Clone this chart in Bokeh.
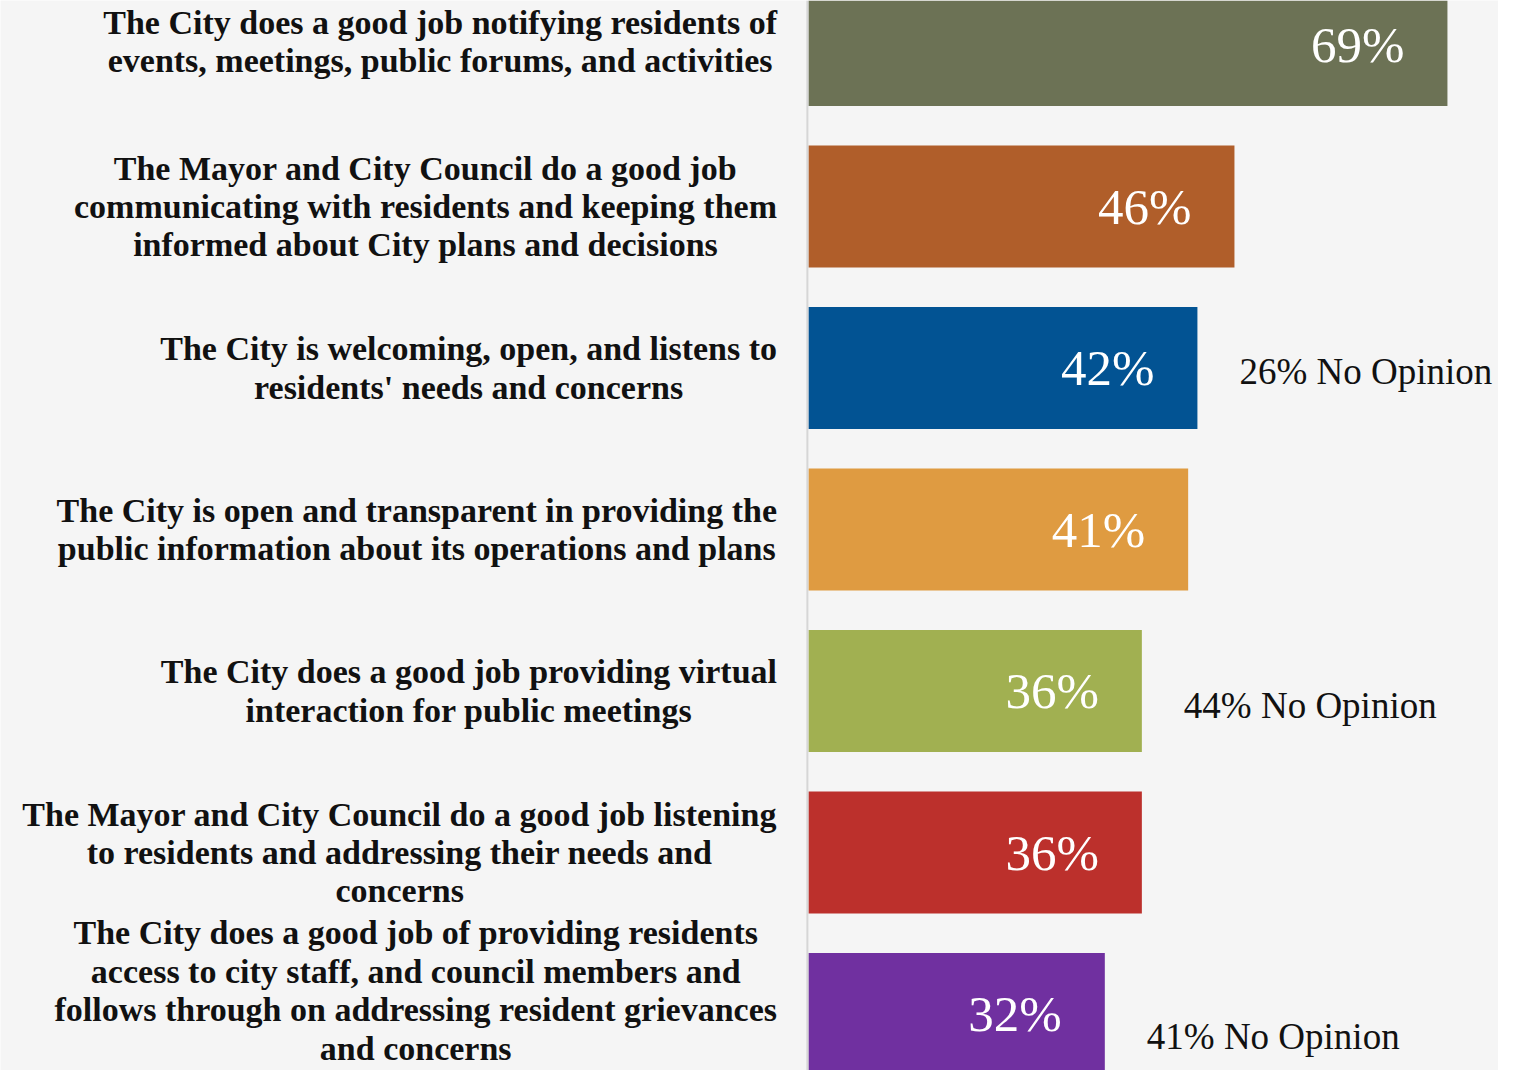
from bokeh.plotting import figure
from bokeh.models import ColumnDataSource, Range1d, Span
from bokeh.core.properties import value
from bokeh.embed import file_html
from bokeh.resources import INLINE

statements = [
    "The City does a good job notifying residents of\nevents, meetings, public forums, and activities",
    "The Mayor and City Council do a good job\ncommunicating with residents and keeping them\ninformed about City plans and decisions",
    "The City is welcoming, open, and listens to\nresidents' needs and concerns",
    "The City is open and transparent in providing the\npublic information about its operations and plans",
    "The City does a good job providing virtual\ninteraction for public meetings",
    "The Mayor and City Council do a good job listening\nto residents and addressing their needs and\nconcerns",
    "The City does a good job of providing residents\naccess to city staff, and council members and\nfollows through on addressing resident grievances\nand concerns",
]
agree = [69, 46, 42, 41, 36, 36, 32]
no_opinion = [None, None, 26, None, 44, None, 41]
colors = ["#6c7255", "#b05e2a", "#025393", "#df9b41", "#a1b051", "#bc302c", "#7030a0"]

pos = list(range(len(statements)))

W, H = 1498, 1070
PX_PER_PCT = 9.26
X0 = 808  # frame pixel where value 0 sits
x_start = -X0 / PX_PER_PCT
x_end = (W - X0) / PX_PER_PCT
PX_PER_ROW = 161.5
Y0 = 44.5
y_top = -Y0 / PX_PER_ROW
y_bot = (H - Y0) / PX_PER_ROW

# last (4-line) label lifted a little so that it stays inside the page
label_shift = [-0.02, 0, 0, 0, 0, 0, -0.145]

src = ColumnDataSource(dict(
    y=pos,
    agree=agree,
    color=colors,
    pct=[f"{v}%" for v in agree],
    stmt=statements,
    label_x=[-3.4] * len(pos),
    label_y=[p_ + s for p_, s in zip(pos, label_shift)],
))

p = figure(width=W, height=H, output_backend="svg", toolbar_location=None,
           x_range=Range1d(x_start, x_end), y_range=Range1d(y_bot, y_top),
           min_border=0, min_border_left=0, min_border_right=0,
           min_border_top=0, min_border_bottom=0)
p.axis.visible = False
p.grid.visible = False
p.outline_line_color = None
p.background_fill_color = "#f5f5f5"
p.border_fill_color = "#f5f5f5"

p.add_layout(Span(location=-0.12, dimension="height", line_color="#d6d6d6", line_width=2))

p.hbar(y="y", left=0, right="agree", height=0.755, color="color", line_color=None, source=src)

p.text(x="agree", y="y", text="pct", source=src, x_offset=-43,
       text_align="right", text_baseline="middle", text_color="white",
       text_font=value("Liberation Serif"), text_font_size="51px")

p.text(x="label_x", y="label_y", text="stmt", source=src,
       text_align="center", anchor="center_right", text_baseline="middle",
       text_color="#111111", text_font=value("Liberation Serif"),
       text_font_style="bold", text_font_size="34px", text_line_height=1.04)

no_y, no_x, no_txt = [], [], []
for i, v in enumerate(no_opinion):
    if v is not None:
        no_y.append(pos[i] + (0.02 if i == 2 else 0.087 if i == 4 else 0.14))
        no_x.append(agree[i])
        no_txt.append(f"{v}% No Opinion")
nsrc = ColumnDataSource(dict(x=no_x, y=no_y, t=no_txt))
p.text(x="x", y="y", text="t", source=nsrc, x_offset=42,
       text_align="left", text_baseline="middle", text_color="#111111",
       text_font=value("Liberation Serif"), text_font_size="37px")

open("out.html", "w").write(file_html(p, INLINE))
